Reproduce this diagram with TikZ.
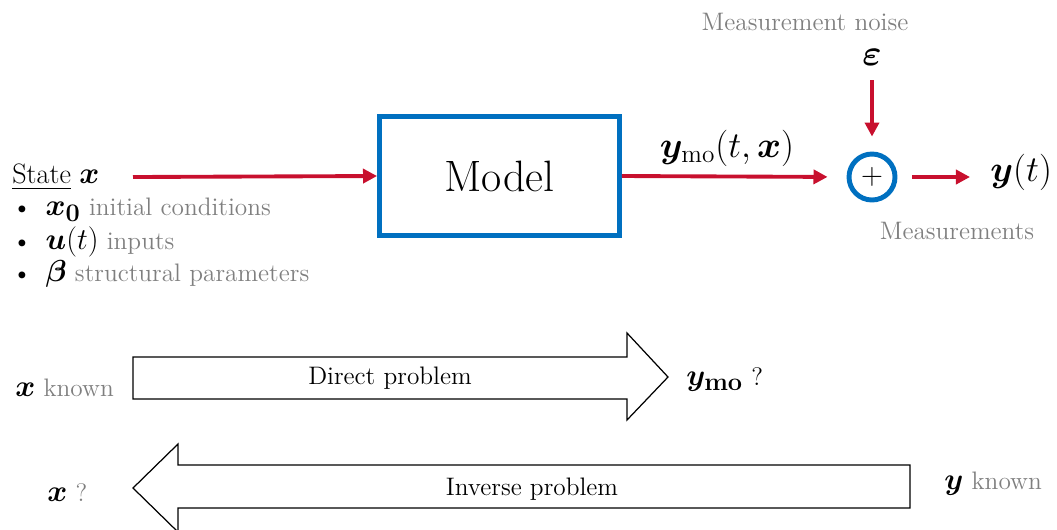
\documentclass[tikz,border=0pt]{standalone}
\usepackage{amsmath,bm}
\usetikzlibrary{arrows.meta, positioning, calc}
\definecolor{modelblue}{HTML}{0070C0}
\definecolor{flowred}{HTML}{C8102E}
\definecolor{notegrey}{HTML}{7F7F7F}
\newcommand{\bsym}[1]{{\fontsize{19}{21}\selectfont$#1$}}

\begin{document}
\begin{tikzpicture}[x=0.02cm, y=-0.02cm,
    flow/.style={draw=flowred, line width=2.2pt, -{Triangle[length=8pt,width=8pt]}},
    note/.style={text=notegrey, font=\fontsize{14.4}{17}\selectfont, inner sep=0pt},
    sym/.style={font=\fontsize{21}{24}\selectfont, inner sep=0pt},
    item/.style={font=\fontsize{14.4}{17}\selectfont, inner sep=0pt, anchor=west},
    bigarrow/.style={draw=black, line width=0.7pt, fill=white}]
    \useasboundingbox (0,0) rectangle (1057,529);

    % block diagram
    \node[draw=modelblue, line width=2.8pt, minimum width=4.8cm, minimum height=2.38cm,
          font=\fontsize{25}{30}\selectfont] (model) at (499.5,176) {Model};
    \node[circle, draw=modelblue, line width=2.8pt, minimum size=0.92cm, inner sep=0pt,
          font=\fontsize{18}{20}\selectfont] (sum) at (872,177) {$+$};

    \node[item] (state) at (12,177) {\fontsize{16}{19}\selectfont\underline{State} \bsym{\bm{x}}};
    \coordinate (in) at (133,177);
    \node[item] (x0) at (12,210) {\textbullet\hspace{8pt}\bsym{\bm{x}_{\mathbf{0}}} {\color{notegrey}initial conditions}};
    \node[item] (ut) at (12,242) {\textbullet\hspace{8pt}\bsym{\bm{u}(t)} {\color{notegrey}inputs}};
    \node[item] (beta) at (12,274) {\textbullet\hspace{8pt}\bsym{\bm{\beta}} {\color{notegrey}structural parameters}};

    \node[sym] (ymo) at (727,148) {$\bm{y}_{\mathrm{mo}}(t,\bm{x})$};
    \node[note] (noise) at (805,22) {Measurement noise};
    \node[sym] (eps) at (872,57) {$\bm{\varepsilon}$};
    \node[sym, anchor=west] (yt) at (990,172) {$\bm{y}(t)$};
    \node[note] (meas) at (957,231) {Measurements};

    \draw[flow] (in) -- (model.west);
    \draw[flow, shorten >=0.38cm] (model.east) -- (sum.west);
    \draw[flow, shorten <=0.3cm, shorten >=0.3cm] (eps) -- (sum.north);
    \draw[flow, shorten <=0.3cm, shorten >=0.4cm] (sum.east) -- (yt.west |- sum.east);

    % direct / inverse problem
    \draw[bigarrow] (133,357) -- (627,357) -- (627,333) -- (668,377) -- (627,420) -- (627,399) -- (133,399) -- cycle;
    \node[item, anchor=center] (direct) at (390,378) {Direct problem};
    \node[item] (xknown) at (15,388) {\bsym{\bm{x}} {\color{notegrey}known}};
    \node[item] (ymoq) at (686,380) {\bsym{\bm{y}_{\mathbf{mo}}} ?};

    \draw[bigarrow] (910,465) -- (178,465) -- (178,444) -- (133,488) -- (178,532) -- (178,508) -- (910,508) -- cycle;
    \node[item, anchor=center] (inverse) at (532,489) {Inverse problem};
    \node[item] (xq) at (47,493) {\bsym{\bm{x}} {\color{notegrey}?}};
    \node[item] (yknown) at (944,484) {\bsym{\bm{y}} {\color{notegrey}known}};
\end{tikzpicture}
\end{document}
